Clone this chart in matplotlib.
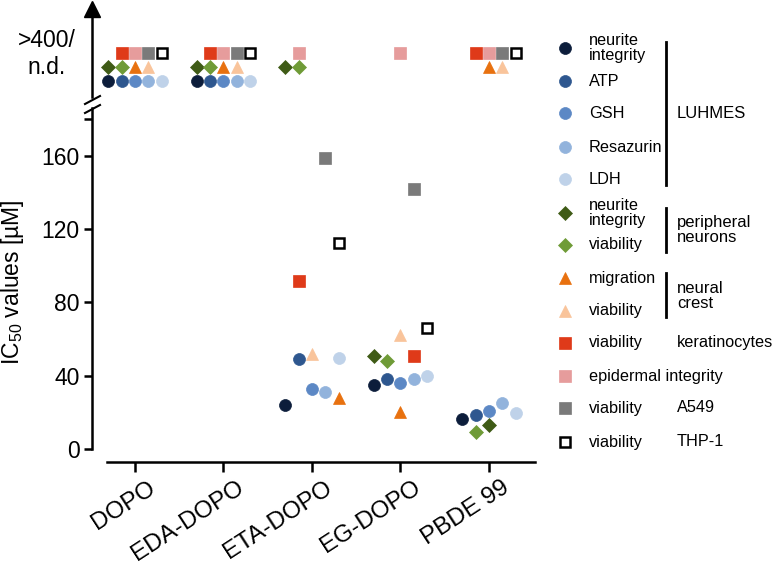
import numpy as np
import matplotlib
matplotlib.use("Agg")
import matplotlib.pyplot as plt
import matplotlib.transforms as mtransforms

plt.rcParams["font.family"] = ["Liberation Sans", "DejaVu Sans"]
plt.rcParams["mathtext.fontset"] = "custom"
plt.rcParams["mathtext.rm"] = "Liberation Sans"

ND = np.nan  # not determined / >400 uM

compounds = ["DOPO", "EDA-DOPO", "ETA-DOPO", "EG-DOPO", "PBDE 99"]

luhmes_neurite = [ND, ND, 24, 35, 16.3]
luhmes_atp = [ND, ND, 49, 38, 18.5]
luhmes_gsh = [ND, ND, 33, 36, 20.5]
luhmes_resazurin = [ND, ND, 31, 38, 25]
luhmes_ldh = [ND, ND, 49.5, 40, 19.5]
pn_neurite = [ND, ND, ND, 51, 13]
pn_viability = [ND, ND, ND, 48, 9.5]
nc_migration = [ND, ND, 28, 20, ND]
nc_viability = [ND, ND, 52, 62, ND]
kera_viability = [ND, ND, 92, 51, ND]
epidermal_integrity = [ND, ND, ND, ND, ND]
a549_viability = [ND, ND, 159, 142, ND]
thp1_viability = [ND, ND, 112.5, 66, ND]

y_ticks = [0, 40, 80, 120, 160]

# (values, marker, face, edge, size, slot, n.d. row, legend text)
series = [
    (luhmes_neurite, "o", "#0c1d3b", "#0c1d3b", 8.6, -2, 0, "neurite\nintegrity"),
    (luhmes_atp, "o", "#2e578f", "#2e578f", 8.6, -1, 0, "ATP"),
    (luhmes_gsh, "o", "#5c88c5", "#5c88c5", 8.6, 0, 0, "GSH"),
    (luhmes_resazurin, "o", "#92b3dc", "#92b3dc", 8.6, 1, 0, "Resazurin"),
    (luhmes_ldh, "o", "#bfd2e9", "#bfd2e9", 8.6, 2, 0, "LDH"),
    (pn_neurite, "D", "#3f5b16", "#3f5b16", 6.8, -2, 1, "neurite\nintegrity"),
    (pn_viability, "D", "#6f9b37", "#6f9b37", 6.8, -1, 1, "viability"),
    (nc_migration, "^", "#e8710f", "#e8710f", 9, 0, 1, "migration"),
    (nc_viability, "^", "#f9c49b", "#f9c49b", 9, 1, 1, "viability"),
    (kera_viability, "s", "#df3a19", "#df3a19", 8.4, -1, 2, "viability"),
    (epidermal_integrity, "s", "#e69c9c", "#e69c9c", 8.4, 0, 2, "epidermal integrity"),
    (a549_viability, "s", "#7a7a7a", "#7a7a7a", 8.4, 1, 2, "viability"),
    (thp1_viability, "s", "white", "black", 7.2, 2, 2, "viability"),
]

# slot shifts where the original scatter was arranged differently
slot_override = {
    (7, 2): 2, (8, 2): 0, (10, 2): -1,
    (8, 3): 0, (9, 3): 1,
    (5, 4): 0,
}
slot_w = 0.15

W, H = 774, 568
fig = plt.figure(figsize=(W / 100, H / 100), dpi=100)


def px_rect(left, top, right, bottom):
    return [left / W, 1 - bottom / H, (right - left) / W, (bottom - top) / H]


xlim = ((92 - 135) / 88.5, (540 - 135) / 88.5)
ax = fig.add_axes(px_rect(92, 108, 540, 462))
ax_top = fig.add_axes(px_rect(92, 9, 540, 97))
lw = 1.8

ax.set_xlim(*xlim)
ax.set_ylim(-7.1, 186.2)
for s in ["top", "right"]:
    ax.spines[s].set_visible(False)
ax.spines["left"].set_bounds(0, 186.2)
ax.spines["bottom"].set_bounds((107 - 135) / 88.5, (535 - 135) / 88.5)
for s in ["left", "bottom"]:
    ax.spines[s].set_linewidth(lw)
ax.set_yticks(y_ticks + [180])
ax.set_yticklabels([str(t) for t in y_ticks] + [""])
ax.tick_params(axis="y", length=5.8, width=lw, labelsize=16.5, pad=3)
ax.set_xticks(range(len(compounds)))
ax.set_xticklabels(compounds, rotation=33, ha="right", va="top",
                   rotation_mode="anchor")
ax.tick_params(axis="x", length=7, width=lw, labelsize=17.5, pad=3.5)
shift = mtransforms.ScaledTranslation(12 / 100, 0, fig.dpi_scale_trans)
for lab in ax.get_xticklabels():
    lab.set_transform(lab.get_transform() + shift)

ax_top.set_xlim(*xlim)
ax_top.set_ylim(-1.222, 5.296)
for s in ["top", "right", "bottom"]:
    ax_top.spines[s].set_visible(False)
ax_top.spines["left"].set_linewidth(lw)
ax_top.set_xticks([])
ax_top.set_yticks([2.26])
ax_top.set_yticklabels([">400/\nn.d."], multialignment="center")
ax_top.tick_params(axis="y", length=0, labelsize=16.5, pad=12)
ax_top.plot([0], [1], marker="^", ms=11, color="black",
            transform=ax_top.transAxes, clip_on=False)

for k, (vals, mk, fc, ec, ms, slot, row, _) in enumerate(series):
    vals = np.array(vals, dtype=float)
    for i, v in enumerate(vals):
        x = i + slot_override.get((k, i), slot) * slot_w
        target, y = (ax, v) if np.isfinite(v) else (ax_top, row)
        target.plot([x], [y], linestyle="none", marker=mk, ms=ms,
                    mfc=fc, mec=ec, mew=1.8 if fc == "white" else 0.5,
                    clip_on=False, zorder=3)

fig.text(13 / W, 1 - 282 / H, r"IC$_{\mathrm{50}}$ values [µM]", rotation=90,
         ha="center", va="center", fontsize=16.5)

# overlay for the axis break and the grouped legend
ov = fig.add_axes([0, 0, 1, 1])
ov.set_xlim(0, W)
ov.set_ylim(H, 0)
ov.axis("off")
ov.patch.set_alpha(0)
for yb in (100, 109):
    ov.plot([85, 100], [yb + 4, yb - 4], color="black", lw=1.5)

leg_y = [48, 81, 113, 147, 179, 213, 245, 278, 311, 343, 376, 408, 442]
for (vals, mk, fc, ec, ms, slot, row, text), y in zip(series, leg_y):
    ov.plot([565], [y], linestyle="none", marker=mk, ms=ms, mfc=fc, mec=ec,
            mew=1.8 if fc == "white" else 0.5)
    ov.text(589, y, text, ha="left", va="center", fontsize=11.7,
            linespacing=1.05)

groups = [
    ("LUHMES", 42, 185, 113),
    ("peripheral\nneurons", 208, 252, 230),
    ("neural\ncrest", 273, 317, 296),
]
for name, y0, y1, yt in groups:
    ov.plot([666, 666], [y0, y1], color="black", lw=2)
    ov.text(677, yt, name, ha="left", va="center", fontsize=12,
            linespacing=1.05)
for name, y in [("keratinocytes", 343), ("A549", 408), ("THP-1", 442)]:
    ov.text(677, y, name, ha="left", va="center", fontsize=11.7)

fig.savefig("out.png", dpi=100)
